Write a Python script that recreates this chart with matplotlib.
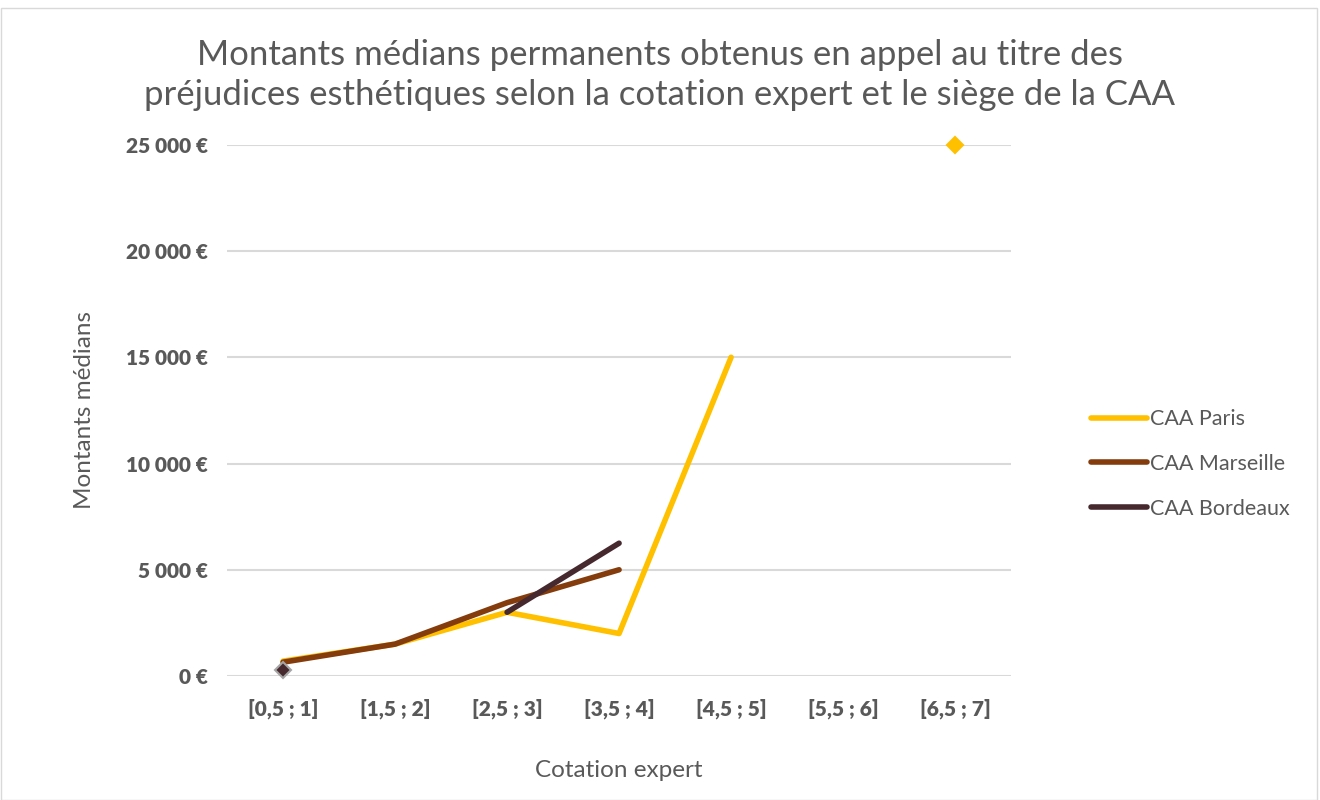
import numpy as np
import matplotlib.pyplot as plt
from matplotlib.patches import Rectangle
from matplotlib.ticker import FuncFormatter

categories = ["[0,5 ; 1]", "[1,5 ; 2]", "[2,5 ; 3]", "[3,5 ; 4]", "[4,5 ; 5]", "[5,5 ; 6]", "[6,5 ; 7]"]
paris = [700, 1500, 3000, 2000, 15000, np.nan, 25000]
marseille = [650, 1500, 3450, 5000, np.nan, np.nan, np.nan]
bordeaux = [300, np.nan, 3000, 6250, np.nan, np.nan, np.nan]

series = [
    ("CAA Paris", paris, "#FFC000", "#FFC000"),
    ("CAA Marseille", marseille, "#843C0C", "#843C0C"),
    ("CAA Bordeaux", bordeaux, "#46292E", "#A5A5A5"),
]

plt.rcParams['font.family'] = ['Lato', 'DejaVu Sans']
grey = "#595959"

fig = plt.figure(figsize=(13.2, 8), dpi=100)
ax = fig.add_axes([0.172, 0.155, 0.594, 0.664])

x = np.arange(len(categories))
for name, vals, col, edge in series:
    v = np.array(vals, dtype=float)
    ax.plot(x, v, color=col, lw=4.0, solid_capstyle='round', solid_joinstyle='round',
            label=name, zorder=3)
    # isolated points get a marker, like in Excel
    for i in range(len(v)):
        if np.isnan(v[i]):
            continue
        left = i == 0 or np.isnan(v[i - 1])
        right = i == len(v) - 1 or np.isnan(v[i + 1])
        if left and right:
            ax.plot(x[i], v[i], marker='D', ms=8, color=col, mec=edge, mew=1.5,
                    zorder=4, clip_on=False)

ax.set_xlim(-0.5, 6.5)
ax.set_ylim(0, 25000)
ax.set_yticks(np.arange(0, 25001, 5000))
ax.yaxis.set_major_formatter(FuncFormatter(lambda v, p: f"{int(v):,} €".replace(",", " ")))
ax.set_xticks(x)
ax.set_xticklabels(categories)
ax.grid(axis='y', color="#D9D9D9", lw=1.5, zorder=0)
for s in ax.spines.values():
    s.set_visible(False)
ax.tick_params(length=0, labelsize=15, labelcolor=grey, pad=14)
ax.tick_params(axis='x', pad=16)
for lab in ax.get_xticklabels() + ax.get_yticklabels():
    lab.set_fontweight('heavy')

ax.set_xlabel("Cotation expert", fontsize=17.5, color=grey, labelpad=30)
ax.set_ylabel("Montants médians", fontsize=17.5, color=grey, labelpad=22)

fig.text(0.5, 0.906, "Montants médians permanents obtenus en appel au titre des\n"
         "préjudices esthétiques selon la cotation expert et le siège de la CAA",
         ha='center', va='center', fontsize=25, color=grey, linespacing=1.3)

leg = fig.legend(loc='center left', bbox_to_anchor=(0.812, 0.42), frameon=False,
                 fontsize=15.5, labelcolor=grey, handlelength=2.6, handletextpad=0.15,
                 labelspacing=1.15)

fig.patches.append(Rectangle((0.001, 0.0), 0.997, 0.99, transform=fig.transFigure,
                             fill=False, ec="#D9D9D9", lw=1))

fig.savefig("out.png", dpi=100)
